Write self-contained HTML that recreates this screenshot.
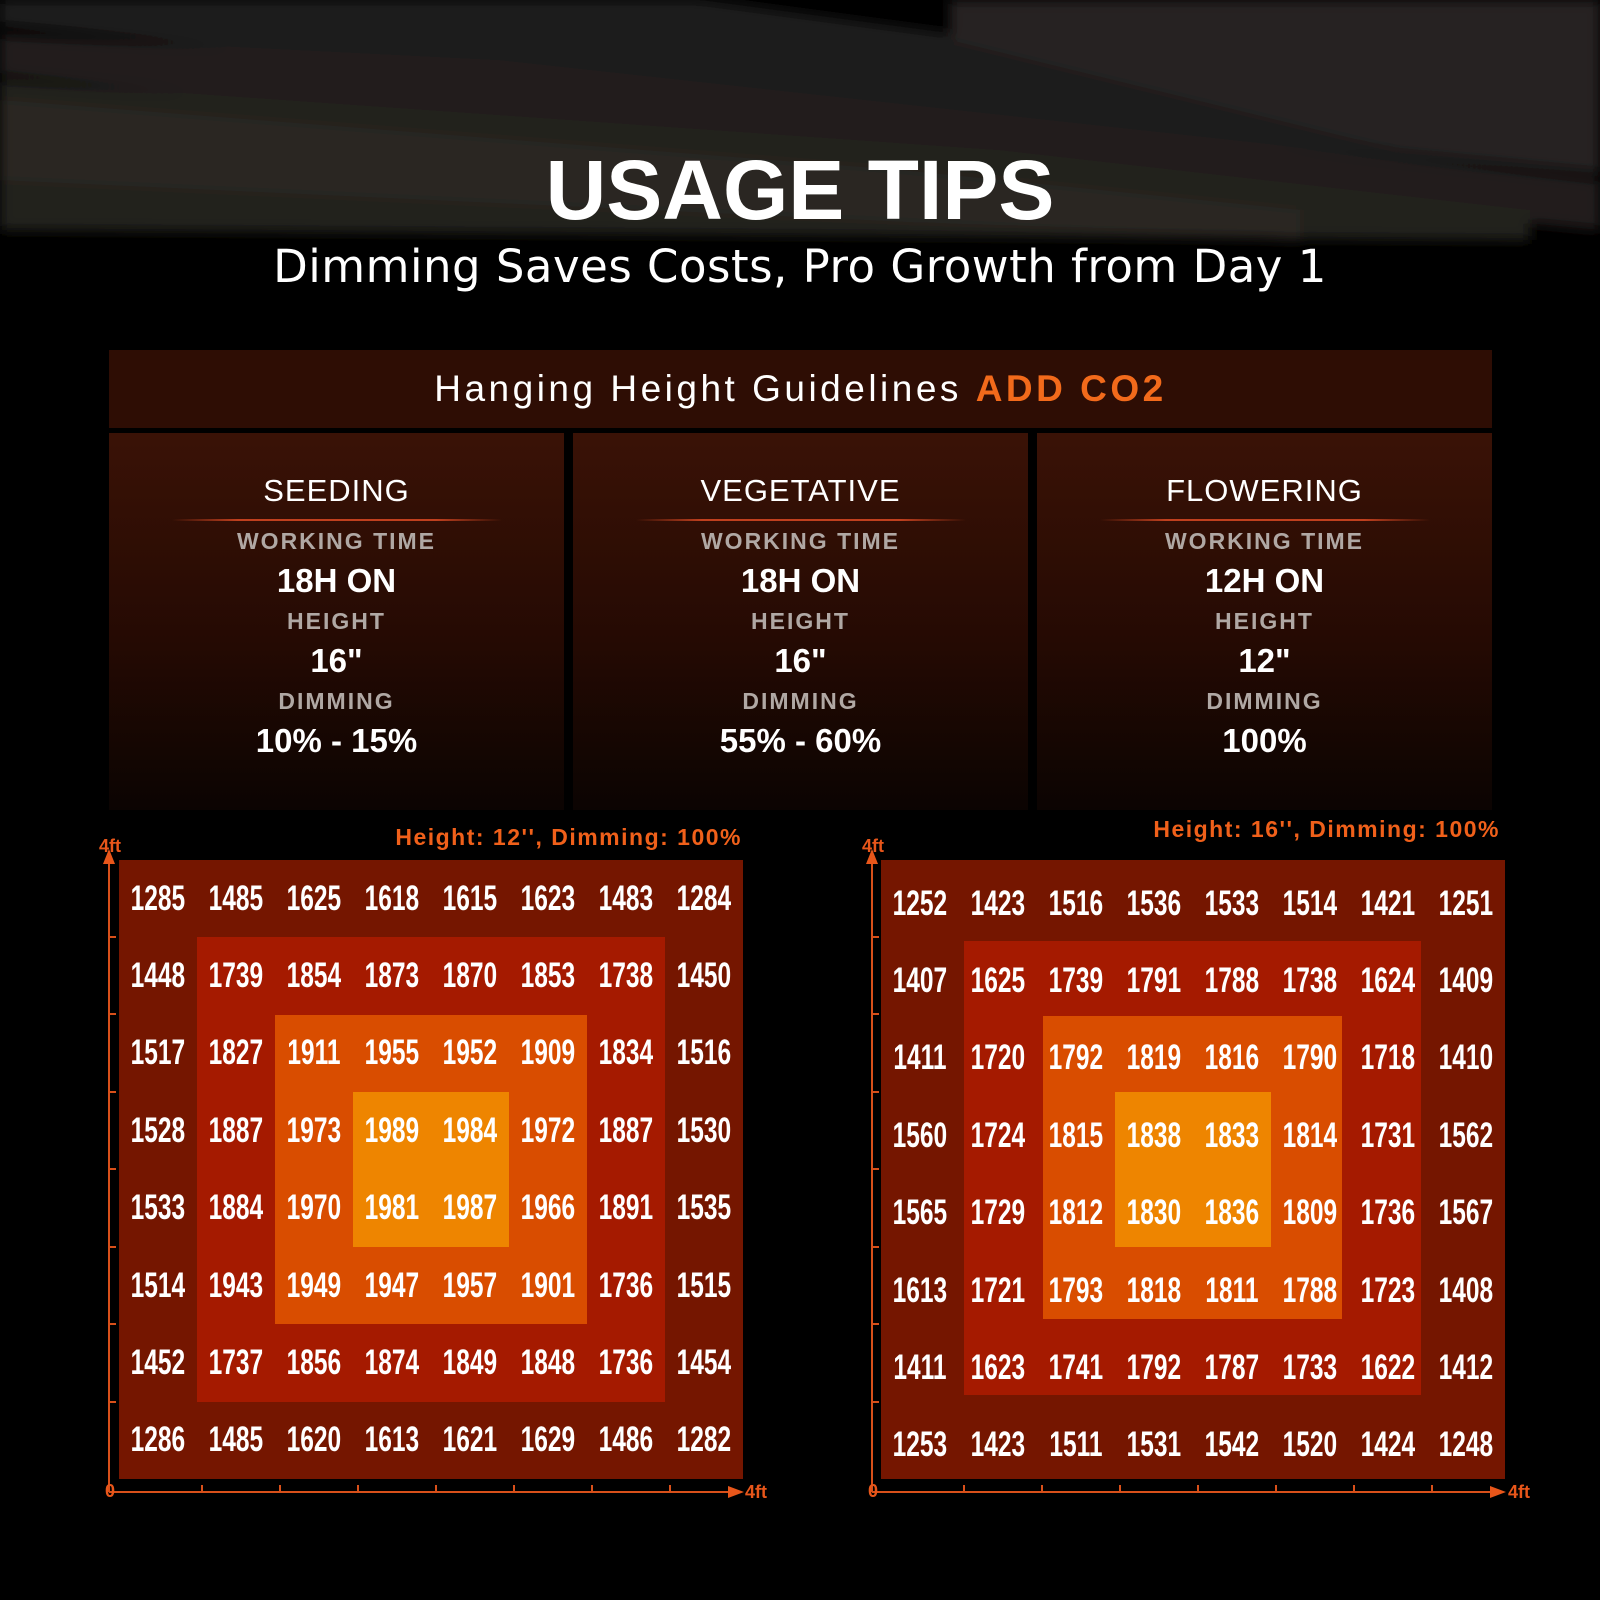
<!DOCTYPE html>
<html><head><meta charset="utf-8"><style>
*{margin:0;padding:0;box-sizing:border-box}
body{width:1600px;height:1600px;background:#000;position:relative;overflow:hidden;font-family:"Liberation Sans","DejaVu Sans",sans-serif;color:#fff}
.abs{position:absolute}
.title{left:0;width:1600px;text-align:center;top:142px;font-size:84px;font-weight:bold;letter-spacing:0px}
.sub{left:0;width:1600px;text-align:center;top:240px;font-size:45px;font-family:"DejaVu Sans",sans-serif;letter-spacing:0.5px}
.hdr{left:109px;top:350px;width:1383px;height:78px;background:#2e0d04;text-align:center;font-size:37px;line-height:78px;letter-spacing:3.5px}
.hdr b{color:#f26a1b}
.panel{top:433px;width:455px;height:377px;background:linear-gradient(#3a1206,#250a03 55%,#0b0402);text-align:center}
.panel .h{position:absolute;left:0;width:100%;top:40px;font-size:31px;letter-spacing:1px}
.panel .ln{position:absolute;left:63px;width:330px;top:86px;height:2px;background:linear-gradient(90deg,transparent,#c0401e 20%,#c0401e 80%,transparent)}
.panel .l{position:absolute;left:0;width:100%;font-size:23px;color:#b0a8a4;letter-spacing:2px;font-weight:bold}
.panel .v{position:absolute;left:0;width:100%;font-size:33px;font-weight:bold}
.lbl{color:#f0601a;font-size:23px;letter-spacing:1.5px;font-weight:bold}
.small{color:#e8561a;font-size:18px;font-weight:bold;font-family:"Liberation Sans Narrow","Liberation Sans",sans-serif}
.grid{position:absolute;top:860px;width:624px;height:619px;background:#751600}
.grid .r{position:absolute}
.nums{position:absolute;left:0;top:0;width:100%;height:100%;display:grid;grid-template-columns:repeat(8,1fr);grid-template-rows:repeat(8,1fr)}
.nums span{display:flex;align-items:center;justify-content:center;font-family:"Liberation Sans Narrow","Liberation Sans",sans-serif;font-size:35px;font-weight:bold}
.nums span i{font-style:normal;display:inline-block;transform:scaleX(.7)}
</style></head><body>
<svg class="abs" style="left:0;top:0" width="1600" height="280">
<defs><filter id="b"><feGaussianBlur stdDeviation="6"/></filter></defs>
<g filter="url(#b)">
<polygon points="0,0 700,0 1600,120 1600,175 0,25" fill="#1e1c1b"/>
<polygon points="950,0 1600,0 1600,170 1400,150 950,40" fill="#272421"/>
<polygon points="0,35 500,60 1600,180 1600,230 0,75" fill="#201d1b"/>
<polygon points="0,80 1000,150 1530,210 1530,240 0,230" fill="#24201e"/>
<polygon points="0,100 900,170 1300,210 1300,240 0,180" fill="#2c2724"/>
</g>
</svg>
<div class="abs title">USAGE TIPS</div>
<div class="abs sub">Dimming Saves Costs, Pro Growth from Day 1</div>
<div class="abs hdr">Hanging Height Guidelines <b>ADD CO2</b></div>

<div class="abs panel" style="left:109px"><div class="h">SEEDING</div><div class="ln"></div>
<div class="l" style="top:95px">WORKING TIME</div><div class="v" style="top:129px">18H ON</div>
<div class="l" style="top:175px">HEIGHT</div><div class="v" style="top:209px">16"</div>
<div class="l" style="top:255px">DIMMING</div><div class="v" style="top:289px">10% - 15%</div></div>
<div class="abs panel" style="left:573px"><div class="h">VEGETATIVE</div><div class="ln"></div>
<div class="l" style="top:95px">WORKING TIME</div><div class="v" style="top:129px">18H ON</div>
<div class="l" style="top:175px">HEIGHT</div><div class="v" style="top:209px">16"</div>
<div class="l" style="top:255px">DIMMING</div><div class="v" style="top:289px">55% - 60%</div></div>
<div class="abs panel" style="left:1037px"><div class="h">FLOWERING</div><div class="ln"></div>
<div class="l" style="top:95px">WORKING TIME</div><div class="v" style="top:129px">12H ON</div>
<div class="l" style="top:175px">HEIGHT</div><div class="v" style="top:209px">12"</div>
<div class="l" style="top:255px">DIMMING</div><div class="v" style="top:289px">100%</div></div>

<div class="abs lbl" style="right:858px;top:824px">Height: 12'', Dimming: 100%</div>
<div class="abs lbl" style="right:100px;top:816px">Height: 16'', Dimming: 100%</div>

<svg class="abs" style="left:0;top:840px" width="1600" height="670">
<g stroke="#d8501a" stroke-width="2" fill="#e8561a">
<line x1="109" y1="22" x2="109" y2="652"/><polygon points="103,24 115,24 109,9" stroke="none"/>
<line x1="109" y1="652" x2="732" y2="652"/><polygon points="728,646 728,658 744,652" stroke="none"/>
<line x1="872" y1="22" x2="872" y2="652"/><polygon points="866,24 878,24 872,9" stroke="none"/>
<line x1="872" y1="652" x2="1494" y2="652"/><polygon points="1490,646 1490,658 1506,652" stroke="none"/>
<g stroke-width="2">
<line x1="109" y1="97" x2="116" y2="97"/><line x1="109" y1="174" x2="116" y2="174"/><line x1="109" y1="252" x2="116" y2="252"/><line x1="109" y1="329" x2="116" y2="329"/><line x1="109" y1="407" x2="116" y2="407"/><line x1="109" y1="484" x2="116" y2="484"/><line x1="109" y1="562" x2="116" y2="562"/>
<line x1="872" y1="97" x2="879" y2="97"/><line x1="872" y1="174" x2="879" y2="174"/><line x1="872" y1="252" x2="879" y2="252"/><line x1="872" y1="329" x2="879" y2="329"/><line x1="872" y1="407" x2="879" y2="407"/><line x1="872" y1="484" x2="879" y2="484"/><line x1="872" y1="562" x2="879" y2="562"/>
<line x1="202" y1="652" x2="202" y2="645"/><line x1="280" y1="652" x2="280" y2="645"/><line x1="358" y1="652" x2="358" y2="645"/><line x1="436" y1="652" x2="436" y2="645"/><line x1="514" y1="652" x2="514" y2="645"/><line x1="592" y1="652" x2="592" y2="645"/><line x1="670" y1="652" x2="670" y2="645"/>
<line x1="964" y1="652" x2="964" y2="645"/><line x1="1042" y1="652" x2="1042" y2="645"/><line x1="1120" y1="652" x2="1120" y2="645"/><line x1="1198" y1="652" x2="1198" y2="645"/><line x1="1276" y1="652" x2="1276" y2="645"/><line x1="1354" y1="652" x2="1354" y2="645"/><line x1="1432" y1="652" x2="1432" y2="645"/>
</g></g>
</svg>
<div class="abs small" style="left:99px;top:836px">4ft</div>
<div class="abs small" style="left:105px;top:1481px">0</div>
<div class="abs small" style="left:745px;top:1482px">4ft</div>
<div class="abs small" style="left:862px;top:836px">4ft</div>
<div class="abs small" style="left:868px;top:1481px">0</div>
<div class="abs small" style="left:1508px;top:1482px">4ft</div>

<div class="grid" style="left:119px">
<div class="r" style="left:78px;top:77px;width:468px;height:465px;background:#a51a00"></div>
<div class="r" style="left:156px;top:155px;width:312px;height:309px;background:#d94d00"></div>
<div class="r" style="left:234px;top:232px;width:156px;height:155px;background:#ee8500"></div>
<div class="nums">
<span><i>1285</i></span><span><i>1485</i></span><span><i>1625</i></span><span><i>1618</i></span><span><i>1615</i></span><span><i>1623</i></span><span><i>1483</i></span><span><i>1284</i></span>
<span><i>1448</i></span><span><i>1739</i></span><span><i>1854</i></span><span><i>1873</i></span><span><i>1870</i></span><span><i>1853</i></span><span><i>1738</i></span><span><i>1450</i></span>
<span><i>1517</i></span><span><i>1827</i></span><span><i>1911</i></span><span><i>1955</i></span><span><i>1952</i></span><span><i>1909</i></span><span><i>1834</i></span><span><i>1516</i></span>
<span><i>1528</i></span><span><i>1887</i></span><span><i>1973</i></span><span><i>1989</i></span><span><i>1984</i></span><span><i>1972</i></span><span><i>1887</i></span><span><i>1530</i></span>
<span><i>1533</i></span><span><i>1884</i></span><span><i>1970</i></span><span><i>1981</i></span><span><i>1987</i></span><span><i>1966</i></span><span><i>1891</i></span><span><i>1535</i></span>
<span><i>1514</i></span><span><i>1943</i></span><span><i>1949</i></span><span><i>1947</i></span><span><i>1957</i></span><span><i>1901</i></span><span><i>1736</i></span><span><i>1515</i></span>
<span><i>1452</i></span><span><i>1737</i></span><span><i>1856</i></span><span><i>1874</i></span><span><i>1849</i></span><span><i>1848</i></span><span><i>1736</i></span><span><i>1454</i></span>
<span><i>1286</i></span><span><i>1485</i></span><span><i>1620</i></span><span><i>1613</i></span><span><i>1621</i></span><span><i>1629</i></span><span><i>1486</i></span><span><i>1282</i></span>
</div></div>

<div class="grid" style="left:881px">
<div class="r" style="left:83px;top:81px;width:457px;height:454px;background:#a51a00"></div>
<div class="r" style="left:162px;top:156px;width:299px;height:303px;background:#d94d00"></div>
<div class="r" style="left:234px;top:232px;width:156px;height:155px;background:#ee8500"></div>
<div class="nums" style="top:5px">
<span><i>1252</i></span><span><i>1423</i></span><span><i>1516</i></span><span><i>1536</i></span><span><i>1533</i></span><span><i>1514</i></span><span><i>1421</i></span><span><i>1251</i></span>
<span><i>1407</i></span><span><i>1625</i></span><span><i>1739</i></span><span><i>1791</i></span><span><i>1788</i></span><span><i>1738</i></span><span><i>1624</i></span><span><i>1409</i></span>
<span><i>1411</i></span><span><i>1720</i></span><span><i>1792</i></span><span><i>1819</i></span><span><i>1816</i></span><span><i>1790</i></span><span><i>1718</i></span><span><i>1410</i></span>
<span><i>1560</i></span><span><i>1724</i></span><span><i>1815</i></span><span><i>1838</i></span><span><i>1833</i></span><span><i>1814</i></span><span><i>1731</i></span><span><i>1562</i></span>
<span><i>1565</i></span><span><i>1729</i></span><span><i>1812</i></span><span><i>1830</i></span><span><i>1836</i></span><span><i>1809</i></span><span><i>1736</i></span><span><i>1567</i></span>
<span><i>1613</i></span><span><i>1721</i></span><span><i>1793</i></span><span><i>1818</i></span><span><i>1811</i></span><span><i>1788</i></span><span><i>1723</i></span><span><i>1408</i></span>
<span><i>1411</i></span><span><i>1623</i></span><span><i>1741</i></span><span><i>1792</i></span><span><i>1787</i></span><span><i>1733</i></span><span><i>1622</i></span><span><i>1412</i></span>
<span><i>1253</i></span><span><i>1423</i></span><span><i>1511</i></span><span><i>1531</i></span><span><i>1542</i></span><span><i>1520</i></span><span><i>1424</i></span><span><i>1248</i></span>
</div></div>
</body></html>
